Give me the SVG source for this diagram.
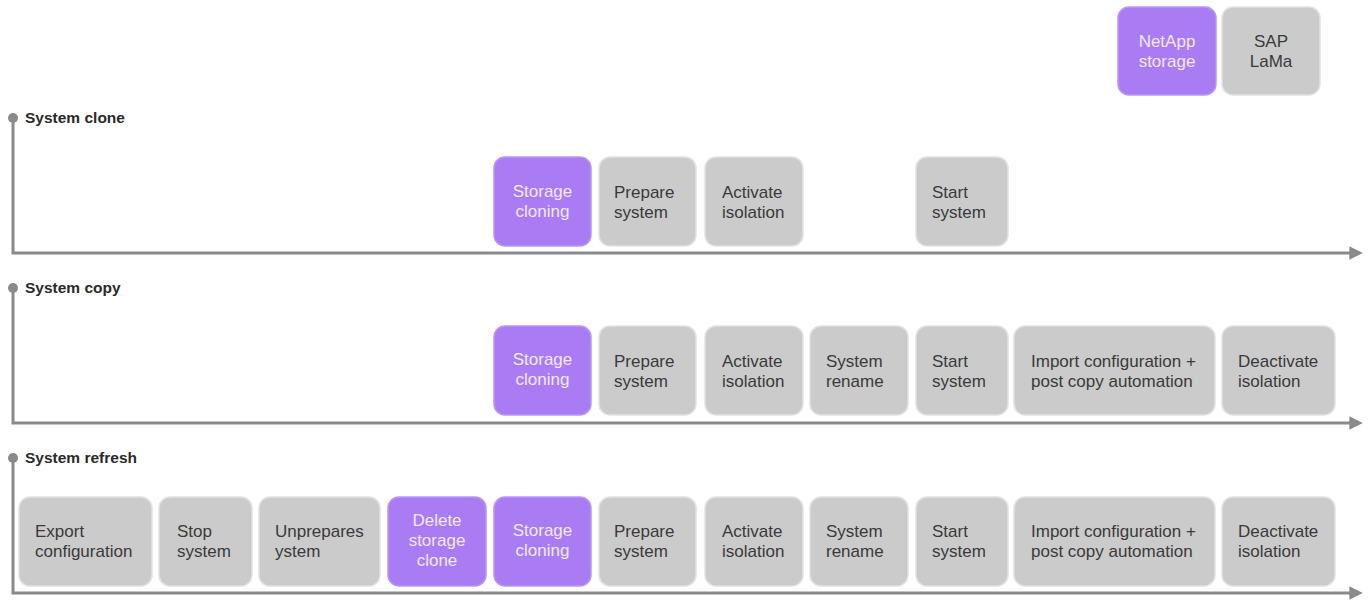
<svg xmlns="http://www.w3.org/2000/svg" width="1368" height="600" viewBox="0 0 1368 600">
<style>
.g{fill:#cbcbcb;stroke:#e2e2e2;stroke-width:1.5}
.p{fill:#a97cf4;stroke:#b996f6;stroke-width:1.5}
.t{font-family:"Liberation Sans",Arial,sans-serif;font-size:17px;fill:#3a3a3a}
.w{font-family:"Liberation Sans",Arial,sans-serif;font-size:17px;fill:#f3e8ff;text-anchor:middle}
.c{text-anchor:middle}
.l{font-family:"Liberation Sans",Arial,sans-serif;font-size:15.5px;font-weight:bold;fill:#2a2a2a}
.ax{stroke:#8a8a8a;stroke-width:3;fill:none}
</style>
<defs>
<marker id="ah" viewBox="0 0 10 10" refX="2" refY="5" markerWidth="4.5" markerHeight="4.5" orient="auto" markerUnits="strokeWidth">
<path d="M0,0 L10,5 L0,10 z" fill="#8a8a8a"/>
</marker>
</defs>
<g id="connectors">
<circle cx="13" cy="118" r="5" fill="#8a8a8a"/>
<path class="ax" d="M13,118 V253 H1352" marker-end="url(#ah)"/>
<circle cx="13" cy="288" r="5" fill="#8a8a8a"/>
<path class="ax" d="M13,288 V423 H1352" marker-end="url(#ah)"/>
<circle cx="13" cy="458" r="5" fill="#8a8a8a"/>
<path class="ax" d="M13,458 V593 H1352" marker-end="url(#ah)"/>
</g>
<g id="labels">
<text class="l" x="25" y="123">System clone</text>
<text class="l" x="25" y="293">System copy</text>
<text class="l" x="25" y="463">System refresh</text>
</g>
<g id="legend-netapp"><rect class="p" x="1118" y="7" width="98" height="88" rx="11"/><text class="w" x="1167" y="47">NetApp</text><text class="w" x="1167" y="67">storage</text></g>
<g id="legend-lama"><rect class="g" x="1222" y="7" width="98" height="88" rx="11"/><text class="t c" x="1271" y="47">SAP</text><text class="t c" x="1271" y="67">LaMa</text></g>

<g id="r1-storage"><rect class="p" x="494" y="157" width="97" height="89" rx="11"/><text class="w" x="542.5" y="197">Storage</text><text class="w" x="542.5" y="217">cloning</text></g>
<g id="r1-prepare"><rect class="g" x="599" y="157" width="97" height="89" rx="11"/><text class="t" x="614" y="198">Prepare</text><text class="t" x="614" y="218">system</text></g>
<g id="r1-activate"><rect class="g" x="705" y="157" width="98" height="89" rx="11"/><text class="t" x="722" y="198">Activate</text><text class="t" x="722" y="218">isolation</text></g>
<g id="r1-start"><rect class="g" x="916" y="157" width="92" height="89" rx="11"/><text class="t" x="932" y="198">Start</text><text class="t" x="932" y="218">system</text></g>

<g id="r2-storage"><rect class="p" x="494" y="326" width="97" height="89" rx="11"/><text class="w" x="542.5" y="365">Storage</text><text class="w" x="542.5" y="385">cloning</text></g>
<g id="r2-prepare"><rect class="g" x="599" y="326" width="97" height="89" rx="11"/><text class="t" x="614" y="367">Prepare</text><text class="t" x="614" y="387">system</text></g>
<g id="r2-activate"><rect class="g" x="705" y="326" width="98" height="89" rx="11"/><text class="t" x="722" y="367">Activate</text><text class="t" x="722" y="387">isolation</text></g>
<g id="r2-rename"><rect class="g" x="810" y="326" width="98" height="89" rx="11"/><text class="t" x="826" y="367">System</text><text class="t" x="826" y="387">rename</text></g>
<g id="r2-start"><rect class="g" x="916" y="326" width="92" height="89" rx="11"/><text class="t" x="932" y="367">Start</text><text class="t" x="932" y="387">system</text></g>
<g id="r2-import"><rect class="g" x="1014" y="326" width="201" height="89" rx="11"/><text class="t" x="1031" y="367">Import configuration +</text><text class="t" x="1031" y="387">post copy automation</text></g>
<g id="r2-deactivate"><rect class="g" x="1222" y="326" width="113" height="89" rx="11"/><text class="t" x="1238" y="367">Deactivate</text><text class="t" x="1238" y="387">isolation</text></g>

<g id="r3-export"><rect class="g" x="19" y="497" width="133" height="89" rx="11"/><text class="t" x="35" y="537">Export</text><text class="t" x="35" y="557">configuration</text></g>
<g id="r3-stop"><rect class="g" x="159" y="497" width="93" height="89" rx="11"/><text class="t" x="177" y="537">Stop</text><text class="t" x="177" y="557">system</text></g>
<g id="r3-unprepare"><rect class="g" x="259" y="497" width="121" height="89" rx="11"/><text class="t" x="275" y="537">Unprepares</text><text class="t" x="275" y="557">ystem</text></g>
<g id="r3-delete"><rect class="p" x="388" y="497" width="98" height="89" rx="11"/><text class="w" x="437" y="526">Delete</text><text class="w" x="437" y="546">storage</text><text class="w" x="437" y="566">clone</text></g>
<g id="r3-storage"><rect class="p" x="494" y="497" width="97" height="89" rx="11"/><text class="w" x="542.5" y="536">Storage</text><text class="w" x="542.5" y="556">cloning</text></g>
<g id="r3-prepare"><rect class="g" x="599" y="497" width="97" height="89" rx="11"/><text class="t" x="614" y="537">Prepare</text><text class="t" x="614" y="557">system</text></g>
<g id="r3-activate"><rect class="g" x="705" y="497" width="98" height="89" rx="11"/><text class="t" x="722" y="537">Activate</text><text class="t" x="722" y="557">isolation</text></g>
<g id="r3-rename"><rect class="g" x="810" y="497" width="98" height="89" rx="11"/><text class="t" x="826" y="537">System</text><text class="t" x="826" y="557">rename</text></g>
<g id="r3-start"><rect class="g" x="916" y="497" width="92" height="89" rx="11"/><text class="t" x="932" y="537">Start</text><text class="t" x="932" y="557">system</text></g>
<g id="r3-import"><rect class="g" x="1014" y="497" width="201" height="89" rx="11"/><text class="t" x="1031" y="537">Import configuration +</text><text class="t" x="1031" y="557">post copy automation</text></g>
<g id="r3-deactivate"><rect class="g" x="1222" y="497" width="113" height="89" rx="11"/><text class="t" x="1238" y="537">Deactivate</text><text class="t" x="1238" y="557">isolation</text></g>
</svg>
